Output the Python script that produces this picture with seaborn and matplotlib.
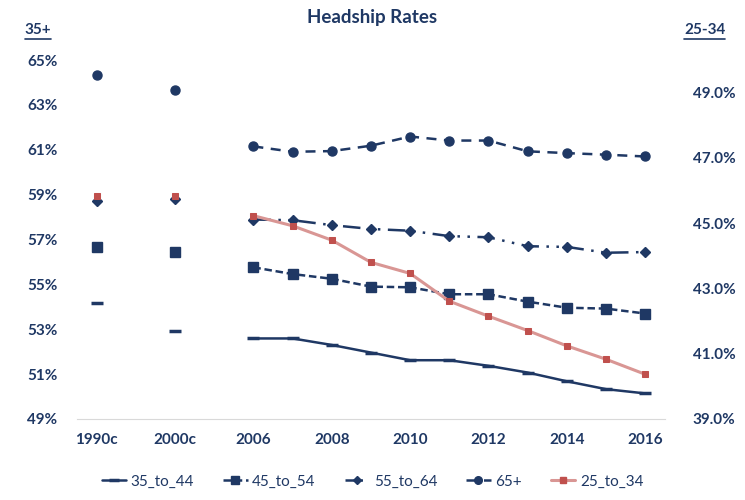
import matplotlib
matplotlib.use("Agg")
import matplotlib.pyplot as plt
from matplotlib.lines import Line2D
import seaborn as sns
import pandas as pd

# census points (1990c, 2000c) and annual values 2006-2016
census = ["1990c", "2000c"]
years = list(range(2006, 2017))

c35_44 = [54.19, 52.93]
c45_54 = [56.67, 56.45]
c55_64 = [58.70, 58.81]
c65 = [64.33, 63.67]
c25_34 = [45.84, 45.84]

a35_44 = [52.59, 52.59, 52.30, 51.96, 51.62, 51.62, 51.37, 51.07, 50.68, 50.33, 50.14]
a45_54 = [55.76, 55.46, 55.25, 54.90, 54.87, 54.56, 54.56, 54.23, 53.96, 53.92, 53.70]
a55_64 = [57.89, 57.86, 57.64, 57.47, 57.39, 57.15, 57.10, 56.70, 56.67, 56.41, 56.44]
a65 = [61.15, 60.91, 60.94, 61.18, 61.59, 61.41, 61.41, 60.93, 60.85, 60.78, 60.70]
a25_34 = [45.23, 44.92, 44.48, 43.80, 43.46, 42.61, 42.15, 41.71, 41.24, 40.83, 40.37]

tick_labels = ["1990c", "2000c", "2006", "2008", "2010", "2012", "2014", "2016"]

navy = "#1f3864"
red = "#c0504d"
pale = "#d99694"

# position on the category axis: census at 0 and 2, years from 4 on
cpos = [0, 2]
ypos = [y - 2002 for y in years]

sns.set_style("white")
plt.rcParams["font.family"] = ["Lato", "DejaVu Sans"]

fig = plt.figure(figsize=(7.45, 5), dpi=100)
ax = fig.add_axes([0.1034, 0.162, 0.789, 0.718])
ax2 = ax.twinx()

styles = {
    "35_to_44": dict(ls="-", marker="_", ms=8, mew=2.5),
    "45_to_54": dict(ls=(0, (3, 1.5)), marker="s", ms=6.5),
    "55_to_64": dict(ls=(0, (7, 3, 1, 3, 1, 3)), marker="D", ms=5),
    "65+": dict(ls=(0, (4, 3)), marker="o", ms=6.5),
}
left = {"35_to_44": (c35_44, a35_44), "45_to_54": (c45_54, a45_54),
        "55_to_64": (c55_64, a55_64), "65+": (c65, a65)}

for name, (cv, av) in left.items():
    st = styles[name]
    df = pd.DataFrame({"pos": ypos, "val": av})
    sns.lineplot(data=df, x="pos", y="val", ax=ax, color=navy, lw=1.8,
                 linestyle=st["ls"], marker=st["marker"], markersize=st["ms"],
                 markeredgecolor=navy, markeredgewidth=st.get("mew", 1))
    dc = pd.DataFrame({"pos": cpos, "val": cv})
    sns.lineplot(data=dc, x="pos", y="val", ax=ax, color=navy, lw=0,
                 marker=st["marker"], markersize=st["ms"],
                 markeredgecolor=navy, markeredgewidth=st.get("mew", 1))

df = pd.DataFrame({"pos": ypos, "val": a25_34})
sns.lineplot(data=df, x="pos", y="val", ax=ax2, color=pale, lw=2.2,
             marker="s", markersize=4.5, markerfacecolor=red, markeredgecolor=red)
dc = pd.DataFrame({"pos": cpos, "val": c25_34})
sns.lineplot(data=dc, x="pos", y="val", ax=ax2, color=pale, lw=0,
             marker="s", markersize=4.5, markerfacecolor=red, markeredgecolor=red)

ax.set_xlim(-0.5, 14.5)
ax.set_ylim(49, 65)
ax2.set_ylim(39, 50)
ax.set_yticks(range(49, 66, 2))
ax.set_yticklabels([f"{v}%" for v in range(49, 66, 2)])
ax2.set_yticks(range(39, 50, 2))
ax2.set_yticklabels([f"{v:.1f}%" for v in range(39, 50, 2)])
ax.set_xticks(range(0, 15, 2))
ax.set_xticklabels(tick_labels)

for a in (ax, ax2):
    a.set_xlabel("")
    a.set_ylabel("")
    for s in a.spines.values():
        s.set_visible(False)
    a.tick_params(length=0, labelsize=11, labelcolor=navy)
    for lab in a.get_xticklabels() + a.get_yticklabels():
        lab.set_fontweight("bold")
ax.spines["bottom"].set_visible(True)
ax.spines["bottom"].set_color("#d9d9d9")
ax.tick_params(axis="y", pad=14)
ax.tick_params(axis="x", pad=10)
ax2.tick_params(axis="y", pad=20)

fig.text(0.5, 0.965, "Headship Rates", ha="center", va="center",
         fontsize=13.5, fontweight="bold", color=navy)

renderer = fig.canvas.get_renderer()
for x, txt in [(0.033, "35+"), (0.918, "25-34")]:
    t = fig.text(x, 0.94, txt, ha="left", va="center", fontsize=11,
                 fontweight="bold", color=navy)
    bb = t.get_window_extent(renderer).transformed(fig.transFigure.inverted())
    fig.add_artist(Line2D([bb.x0, bb.x1], [bb.y0 - 0.004, bb.y0 - 0.004],
                          color=navy, lw=1.2, transform=fig.transFigure))

handles = []
for name in ["35_to_44", "45_to_54", "55_to_64", "65+"]:
    st = styles[name]
    handles.append(Line2D([], [], color=navy, lw=1.8, ls=st["ls"], marker=st["marker"],
                          ms=st["ms"] - 1, mew=st.get("mew", 1), label=name))
handles.append(Line2D([], [], color=pale, lw=2.2, marker="s", ms=4.5,
                      mfc=red, mec=red, label="25_to_34"))
leg = fig.legend(handles=handles, loc="lower center", bbox_to_anchor=(0.5, -0.005),
                 ncol=5, frameon=False, fontsize=11, handlelength=1.6,
                 columnspacing=1.9, handletextpad=0.3)
for t in leg.get_texts():
    t.set_color(navy)

fig.savefig("out.png", dpi=100)
